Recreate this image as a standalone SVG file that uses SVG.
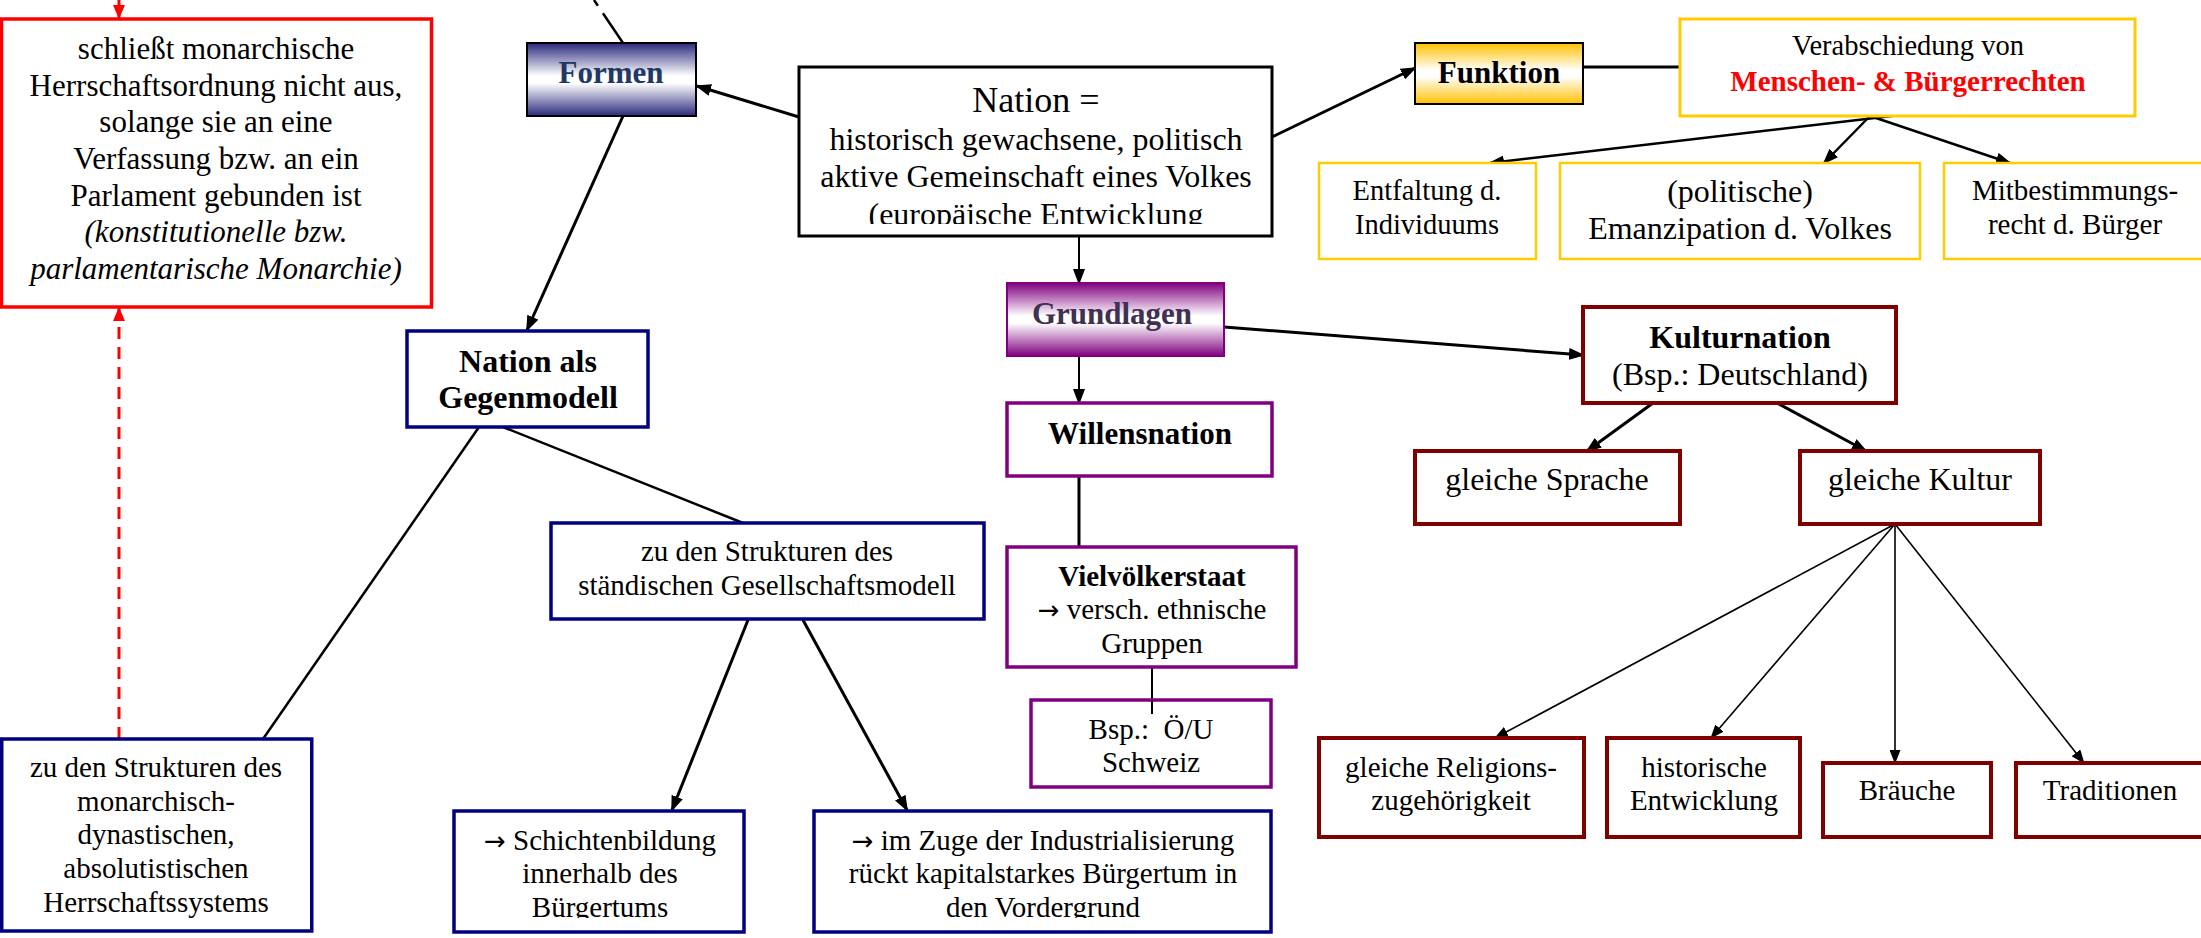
<svg xmlns="http://www.w3.org/2000/svg" width="2201" height="938" viewBox="0 0 2201 938">
<style>
.t{font-family:"Liberation Serif","Times New Roman",serif;text-anchor:middle;fill:#000}
.b{font-weight:bold}
.i{font-style:italic}
.ar{font-family:"DejaVu Sans",sans-serif;font-size:26px}
.s28{font-size:28.5px}.s29{font-size:29px}.s31{font-size:31px}.s32{font-size:32px}.s36{font-size:36px}
.box{fill:#fff}
.navy{stroke:#000080;stroke-width:3.5}
.purple{stroke:#800080;stroke-width:3.5}
.dred{stroke:#800000;stroke-width:4}
.yel{stroke:#FFCC00;stroke-width:3}
.yel2{stroke:#FFCC00;stroke-width:2.5}
.blk{stroke:#000;stroke-width:3}
.c{fill:none;stroke:#000}
.w3{stroke-width:3}.w25{stroke-width:2.5}.w2{stroke-width:2}.w15{stroke-width:1.6}
</style>
<defs>
<linearGradient id="gNavy" x1="0" y1="0" x2="0" y2="1">
<stop offset="0" stop-color="#2A2A7C"/><stop offset="0.45" stop-color="#FFFFFF"/><stop offset="0.55" stop-color="#FFFFFF"/><stop offset="1" stop-color="#2A2A7C"/>
</linearGradient>
<linearGradient id="gPurple" x1="0" y1="0" x2="0" y2="1">
<stop offset="0" stop-color="#800080"/><stop offset="0.45" stop-color="#FFFFFF"/><stop offset="0.55" stop-color="#FFFFFF"/><stop offset="1" stop-color="#800080"/>
</linearGradient>
<linearGradient id="gGold" x1="0" y1="0" x2="0" y2="1">
<stop offset="0" stop-color="#FFC000"/><stop offset="0.45" stop-color="#FFFFFF"/><stop offset="0.55" stop-color="#FFFFFF"/><stop offset="1" stop-color="#FFC000"/>
</linearGradient>
<marker id="ah" viewBox="0 0 16 12" refX="14" refY="6" markerWidth="16" markerHeight="12" markerUnits="userSpaceOnUse" orient="auto"><path d="M0,0 L16,6 L0,12 z" fill="#000"/></marker>
<marker id="ahs" viewBox="0 0 14 11" refX="13" refY="5.5" markerWidth="14" markerHeight="11" markerUnits="userSpaceOnUse" orient="auto"><path d="M0,0 L14,5.5 L0,11 z" fill="#000"/></marker>
<marker id="ahr" viewBox="0 0 14 12" refX="13" refY="6" markerWidth="14" markerHeight="12" markerUnits="userSpaceOnUse" orient="auto"><path d="M0,0 L14,6 L0,12 z" fill="#FF0000"/></marker>
<clipPath id="cNation"><rect x="799" y="67" width="473" height="157"/></clipPath>
<clipPath id="cSchicht"><rect x="454" y="811" width="290" height="107"/></clipPath>
<clipPath id="cZuge"><rect x="814" y="811" width="457" height="107"/></clipPath>
</defs>
<rect width="2201" height="938" fill="#fff"/>

<g id="connectors">
<path class="c w25" d="M594,0 L623,43" stroke-dasharray="7 9 200"/>
<path class="c w3" d="M799,117 L697,86" marker-end="url(#ah)"/>
<path class="c w3" d="M623,116 L527,330" marker-end="url(#ah)"/>
<path class="c w3" d="M1272,137 L1415,68" marker-end="url(#ah)"/>
<path class="c w3" d="M1583,67 L1679,67"/>
<path class="c w25" d="M1892,116 L1490,163" marker-end="url(#ah)"/>
<path class="c w25" d="M1870,116 L1824,163" marker-end="url(#ah)"/>
<path class="c w25" d="M1870,116 L2010,163" marker-end="url(#ah)"/>
<path class="c w2" d="M1079,236 L1079,283" marker-end="url(#ah)"/>
<path class="c w2" d="M1079,356 L1079,403" marker-end="url(#ah)"/>
<path class="c w3" d="M1079,476 L1079,547"/>
<path class="c w2" d="M1152,667 L1152,714"/>
<path class="c w3" d="M1224,327 L1583,355" marker-end="url(#ah)"/>
<path class="c w3" d="M1653,403 L1587,451" marker-end="url(#ah)"/>
<path class="c w3" d="M1777,403 L1866,451" marker-end="url(#ah)"/>
<path class="c w15" d="M1895,524 L1495,738" marker-end="url(#ahs)"/>
<path class="c w15" d="M1895,524 L1711,738" marker-end="url(#ahs)"/>
<path class="c w15" d="M1895,524 L1895,763" marker-end="url(#ahs)"/>
<path class="c w15" d="M1895,524 L2084,763" marker-end="url(#ahs)"/>
<path class="c w25" d="M479,427 L263,739"/>
<path class="c w25" d="M503,427 L743,523"/>
<path class="c w3" d="M748,620 L672,810" marker-end="url(#ah)"/>
<path class="c w3" d="M803,620 L907,810" marker-end="url(#ah)"/>
<path fill="none" stroke="#FF0000" stroke-width="3" stroke-dasharray="12 8" d="M119,739 L119,308" marker-end="url(#ahr)"/>
<path fill="none" stroke="#FF0000" stroke-width="3" d="M119,0 L119,18" marker-end="url(#ahr)"/>
</g>

<g id="n-monarchie">
<rect class="box" x="1.5" y="19" width="430" height="288" stroke="#FF0000" stroke-width="3.5"/>
<text class="t s31" x="216" y="59">schließt monarchische</text>
<text class="t s31" x="216" y="96">Herrschaftsordnung nicht aus,</text>
<text class="t s31" x="216" y="132">solange sie an eine</text>
<text class="t s31" x="216" y="169">Verfassung bzw. an ein</text>
<text class="t s31" x="216" y="206">Parlament gebunden ist</text>
<text class="t s31 i" x="216" y="242">(konstitutionelle bzw.</text>
<text class="t s31 i" x="216" y="279">parlamentarische Monarchie)</text>
</g>

<g id="n-formen">
<rect x="527" y="43" width="169" height="73" fill="url(#gNavy)" stroke="#000" stroke-width="2"/>
<text class="t s31 b" x="611" y="83" style="fill:#1F3864">Formen</text>
</g>

<g id="n-nation">
<rect class="box blk" x="799" y="67" width="473" height="169"/>
<g clip-path="url(#cNation)">
<text class="t s36" x="1036" y="112">Nation =</text>
<text class="t s32" x="1036" y="150">historisch gewachsene, politisch</text>
<text class="t s32" x="1036" y="187">aktive Gemeinschaft eines Volkes</text>
<text class="t s32" x="1036" y="225">(europäische Entwicklung</text>
</g>
</g>

<g id="n-funktion">
<rect x="1415" y="43" width="168" height="61" fill="url(#gGold)" stroke="#000" stroke-width="2"/>
<text class="t s31 b" x="1499" y="83">Funktion</text>
</g>

<g id="n-verabschiedung">
<rect class="box yel" x="1680" y="19" width="455" height="97" stroke-width="3.5"/>
<text class="t s28" x="1908" y="55">Verabschiedung von</text>
<text class="t s29 b" x="1908" y="91" style="fill:#FF0000">Menschen- &amp; Bürgerrechten</text>
</g>

<g id="n-entfaltung">
<rect class="box yel2" x="1319" y="163" width="217" height="96"/>
<text class="t s28" x="1427" y="200">Entfaltung d.</text>
<text class="t s28" x="1427" y="234">Individuums</text>
</g>

<g id="n-emanzipation">
<rect class="box yel2" x="1560" y="163" width="360" height="96"/>
<text class="t s32" x="1740" y="202">(politische)</text>
<text class="t s32" x="1740" y="239">Emanzipation d. Volkes</text>
</g>

<g id="n-mitbestimmung">
<rect class="box yel2" x="1944" y="163" width="262" height="96"/>
<text class="t s29" x="2075" y="200">Mitbestimmungs-</text>
<text class="t s29" x="2075" y="234">recht d. Bürger</text>
</g>

<g id="n-grundlagen">
<rect x="1007" y="283" width="217" height="73" fill="url(#gPurple)" stroke="#800080" stroke-width="2"/>
<text class="t s31 b" x="1112" y="324" style="fill:#3F3151">Grundlagen</text>
</g>

<g id="n-willensnation">
<rect class="box purple" x="1007" y="403" width="265" height="73"/>
<text class="t s31 b" x="1140" y="444">Willensnation</text>
</g>

<g id="n-vielvoelker">
<rect class="box purple" x="1007" y="547" width="289" height="120"/>
<text class="t s29 b" x="1152" y="586">Vielvölkerstaat</text>
<text class="t s29" x="1152" y="619"><tspan class="ar">→</tspan> versch. ethnische</text>
<text class="t s29" x="1152" y="653">Gruppen</text>
</g>

<g id="n-bsp">
<rect class="box purple" x="1031" y="700" width="240" height="87"/>
<line x1="1152" y1="700" x2="1152" y2="714" stroke="#000" stroke-width="2"/>
<text class="t s29" x="1151" y="739" xml:space="preserve">Bsp.:  Ö/U</text>
<text class="t s29" x="1151" y="772">Schweiz</text>
</g>

<g id="n-gegenmodell">
<rect class="box navy" x="407" y="331" width="241" height="96"/>
<text class="t s32 b" x="528" y="372">Nation als</text>
<text class="t s32 b" x="528" y="408">Gegenmodell</text>
</g>

<g id="n-staendisch">
<rect class="box navy" x="551" y="523" width="433" height="96"/>
<text class="t s29" x="767" y="561">zu den Strukturen des</text>
<text class="t s29" x="767" y="595">ständischen Gesellschaftsmodell</text>
</g>

<g id="n-monarchisch">
<rect class="box navy" x="1.75" y="739" width="310" height="192"/>
<text class="t s29" x="156" y="777">zu den Strukturen des</text>
<text class="t s29" x="156" y="811">monarchisch-</text>
<text class="t s29" x="156" y="844">dynastischen,</text>
<text class="t s29" x="156" y="878">absolutistischen</text>
<text class="t s29" x="156" y="912">Herrschaftssystems</text>
</g>

<g id="n-schicht">
<rect class="box navy" x="454" y="811" width="290" height="121"/>
<g clip-path="url(#cSchicht)">
<text class="t s29" x="600" y="850"><tspan class="ar">→</tspan> Schichtenbildung</text>
<text class="t s29" x="600" y="883">innerhalb des</text>
<text class="t s29" x="600" y="917">Bürgertums</text>
</g>
</g>

<g id="n-industrie">
<rect class="box navy" x="814" y="811" width="457" height="121"/>
<g clip-path="url(#cZuge)">
<text class="t s29" x="1043" y="850"><tspan class="ar">→</tspan> im Zuge der Industrialisierung</text>
<text class="t s29" x="1043" y="883">rückt kapitalstarkes Bürgertum in</text>
<text class="t s29" x="1043" y="917">den Vordergrund</text>
</g>
</g>

<g id="n-kulturnation">
<rect class="box dred" x="1583" y="307" width="313" height="96"/>
<text class="t s32 b" x="1740" y="348">Kulturnation</text>
<text class="t s32" x="1740" y="385">(Bsp.: Deutschland)</text>
</g>

<g id="n-sprache">
<rect class="box dred" x="1415" y="451" width="265" height="73"/>
<text class="t s32" x="1547" y="490">gleiche Sprache</text>
</g>

<g id="n-kultur">
<rect class="box dred" x="1800" y="451" width="240" height="73"/>
<text class="t s32" x="1920" y="490">gleiche Kultur</text>
</g>

<g id="n-religion">
<rect class="box dred" x="1319" y="738" width="265" height="99"/>
<text class="t s29" x="1451" y="777">gleiche Religions-</text>
<text class="t s29" x="1451" y="810">zugehörigkeit</text>
</g>

<g id="n-historisch">
<rect class="box dred" x="1607" y="738" width="193" height="99"/>
<text class="t s29" x="1704" y="777">historische</text>
<text class="t s29" x="1704" y="810">Entwicklung</text>
</g>

<g id="n-braeuche">
<rect class="box dred" x="1823" y="763" width="168" height="74"/>
<text class="t s29" x="1907" y="800">Bräuche</text>
</g>

<g id="n-traditionen">
<rect class="box dred" x="2016" y="763" width="190" height="74"/>
<text class="t s29" x="2110" y="800">Traditionen</text>
</g>
</svg>
